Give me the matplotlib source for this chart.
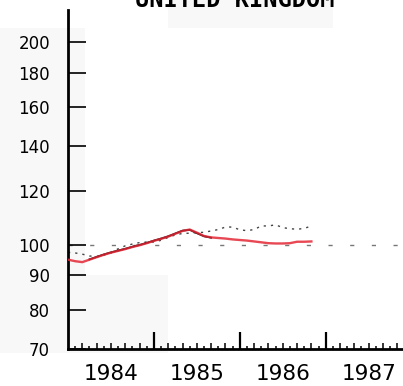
import numpy as np
import matplotlib
matplotlib.use("Agg")
import matplotlib.pyplot as plt
from matplotlib.patches import Rectangle
from matplotlib.ticker import FixedLocator, NullLocator, NullFormatter

# Monthly index values, Jan 1984 onwards
months = np.arange(35)
dates = 1984 + months / 12.0

actual = [95.0, 94.5, 94.2, 95.0, 95.8, 96.6, 97.3, 97.9, 98.5, 99.2,
          99.8, 100.5, 101.3, 102.0, 102.8, 103.8, 104.8, 105.3, 104.2, 103.0,
          102.5, 102.3, 102.1, 101.8, 101.6, 101.4, 101.1, 100.8, 100.5, 100.4,
          100.4, 100.5, 101.0, 101.0, 101.1]

trend_start = 3
trend = [95.1, 95.9, 96.7, 97.4, 98.0, 98.6, 99.3, 99.9, 100.6, 101.4,
         102.1, 102.9, 103.9, 104.9, 105.2, 104.0, 102.9, 102.4]

forecast = [97.4, 97.2, 96.8, 96.2, 96.0, 96.5, 97.2, 98.6, 99.6, 100.2,
            100.7, 100.9, 100.9, 101.5, 102.5, 103.4, 103.9, 104.0, 104.2, 104.3,
            104.8, 105.3, 106.2, 106.2, 105.2, 104.9, 105.3, 106.6, 106.6, 107.0,
            106.0, 105.6, 105.4, 105.7, 106.6]

base_level = 100
y_ticks = [70, 80, 90, 100, 120, 140, 160, 180, 200]
years = [1984, 1985, 1986, 1987]
title = "UNITED KINGDOM"

W, H = 403, 386
fig = plt.figure(figsize=(W / 100, H / 100), dpi=100)
fig.patch.set_facecolor("white")

# faint paper tint
for (x0, y0, w, h) in [(0, 28, 85, 325), (68, 275, 100, 78), (168, 0, 165, 28)]:
    fig.patches.append(Rectangle((x0 / W, 1 - (y0 + h) / H), w / W, h / H,
                                 transform=fig.transFigure, color="#f8f8f8",
                                 zorder=-10, lw=0))

ax = fig.add_axes([68 / W, 1 - 349 / H, 1 - 68 / W, (349 - 10) / H])
ax.patch.set_alpha(0)
ax.set_yscale("log")
ax.set_ylim(70, 223)
ax.set_xlim(1984.0, 1987.9)

for s in ("top", "right"):
    ax.spines[s].set_visible(False)
for s in ("left", "bottom"):
    ax.spines[s].set_linewidth(2)
    ax.spines[s].set_color("black")

# y axis
ax.yaxis.set_major_locator(FixedLocator(y_ticks))
ax.set_yticklabels([str(v) for v in y_ticks])
ax.yaxis.set_minor_locator(NullLocator())
ax.yaxis.set_minor_formatter(NullFormatter())
ax.tick_params(axis="y", which="major", direction="in", length=13, width=1.2,
               pad=13, labelsize=12)

# x axis: year marks and month marks
ax.xaxis.set_major_locator(FixedLocator(years[1:]))
ax.xaxis.set_minor_locator(FixedLocator([1984 + m / 12 for m in range(2, 48, 2) if m % 12]))
ax.tick_params(axis="x", which="major", direction="in", length=12, width=1.6,
               labelbottom=False)
ax.tick_params(axis="x", which="minor", direction="in", length=4.5, width=1.1)

sec_short = ax.secondary_xaxis("bottom")
sec_short.spines["bottom"].set_visible(False)
sec_short.xaxis.set_major_locator(FixedLocator([1984 + m / 12 for m in range(1, 48, 2)]))
sec_short.xaxis.set_minor_locator(NullLocator())
sec_short.tick_params(axis="x", direction="in", length=2.5, width=1.1, labelbottom=False)

sec_lab = ax.secondary_xaxis("bottom")
sec_lab.spines["bottom"].set_visible(False)
sec_lab.xaxis.set_major_locator(FixedLocator([y + 0.5 for y in years]))
sec_lab.set_xticklabels([str(y) for y in years])
sec_lab.xaxis.set_minor_locator(NullLocator())
sec_lab.tick_params(axis="x", length=0, pad=11, labelsize=15.5)

# reference level
ax.axhline(base_level, color="#777777", lw=1, ls=(0, (3, 12.6)), zorder=1)

ax.plot(dates, forecast, color="#444444", lw=1, ls=(0, (1.6, 3.6)), zorder=2)
ax.plot(dates[trend_start:trend_start + len(trend)], trend, color="black", lw=1.3, zorder=3)
ax.plot(dates, actual, color="#e42835", lw=1.7, alpha=0.85, zorder=4)

fig.text(235 / W, 1 - 7 / H, title, ha="center", va="baseline",
         family="DejaVu Sans Mono", fontsize=17, fontweight="bold")

fig.savefig("out.png", dpi=100)
